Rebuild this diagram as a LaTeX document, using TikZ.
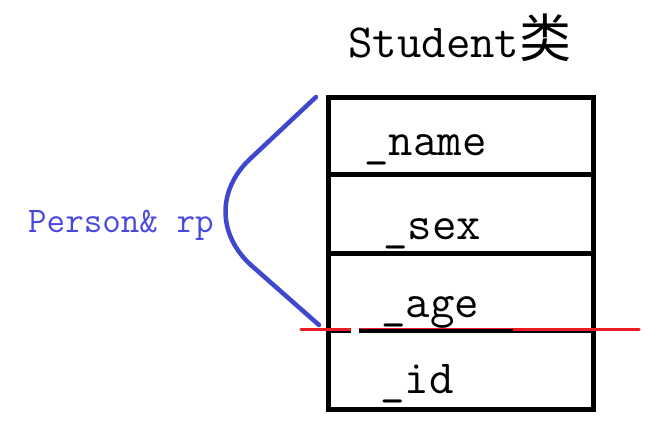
\documentclass[tikz,border=0pt]{standalone}
\usepackage{fontspec}
\newfontfamily\cjkfont{Noto Sans CJK SC}
\definecolor{boxblue}{RGB}{63,72,204}
\definecolor{txtblue}{RGB}{72,72,225}
\definecolor{cutred}{RGB}{237,28,36}
\begin{document}
\begin{tikzpicture}[x=1pt,y=-1pt,
  field/.style={anchor=base west,inner sep=0pt,font=\fontsize{47.5}{47.5}\selectfont\ttfamily},
  boxline/.style={line width=5pt,black}]
\useasboundingbox (0,0) rectangle (671,426);
% title
\node[field] (title) at (348,57) {Student{\cjkfont\fontsize{52}{52}\selectfont 类}};
% box
\coordinate (tl) at (328.5,97);
\coordinate (br) at (593.5,409.5);
\draw[boxline] (328.5,174) -- (593.5,174);
\draw[boxline] (328.5,253) -- (593.5,253);
\draw[boxline] (328.5,330.5) -- (593.5,330.5);
\draw[boxline] (tl) rectangle (br);
% fields
\node[field] (name) at (364,155) {\_name};
\node[field] (sex) at (383,239) {\_sex};
\node[field] (age) at (381,317) {\_age};
\node[field] (id) at (380,393) {\_id};
% red cut line
\coordinate (ra) at (301,329.5);
\coordinate (rb) at (639,329.5);
\draw[cutred,line width=3.5pt,line cap=round] (ra) -- (rb);
\fill[white] (351,325) rectangle (359,335);
\draw[black,line width=4pt] (359,330.5) -- (513,330.5);
% blue brace
\coordinate (bt) at (316,97);
\coordinate (bb) at (319,325);
\draw[boxblue,line width=4.5pt,line cap=round]
  (bt) -- (250,159) .. controls (217,190) and (217,235) .. (252,266) -- (bb);
\node[anchor=base west,inner sep=0pt,text=txtblue,font=\fontsize{36}{36}\selectfont\ttfamily] (rp) at (28,232) {Person\& rp};
\end{tikzpicture}
\end{document}
